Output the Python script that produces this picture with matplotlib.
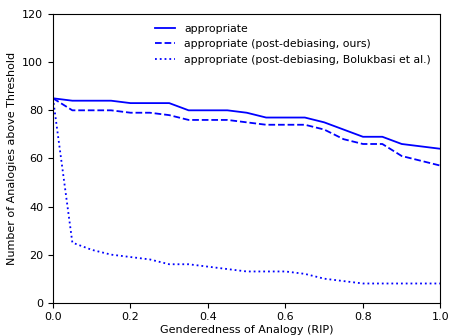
import matplotlib
matplotlib.use("Agg")
import matplotlib.pyplot as plt

# thresholds on genderedness (RIP)
rip = [0.0, 0.05, 0.1, 0.15, 0.2, 0.25, 0.3, 0.35, 0.4, 0.45, 0.5,
       0.55, 0.6, 0.65, 0.7, 0.75, 0.8, 0.85, 0.9, 0.95, 1.0]

appropriate = [85, 84, 84, 84, 83, 83, 83, 80, 80, 80, 79,
               77, 77, 77, 75, 72, 69, 69, 66, 65, 64]
appropriate_ours = [85, 80, 80, 80, 79, 79, 78, 76, 76, 76, 75,
                    74, 74, 74, 72, 68, 66, 66, 61, 59, 57]
appropriate_bolukbasi = [85, 25, 22, 20, 19, 18, 16, 16, 15, 14, 13,
                         13, 13, 12, 10, 9, 8, 8, 8, 8, 8]

labels = ["appropriate",
          "appropriate (post-debiasing, ours)",
          "appropriate (post-debiasing, Bolukbasi et al.)"]

plt.rcParams['font.size'] = 8

fig, ax = plt.subplots(figsize=(4.49, 3.36), dpi=100)
fig.subplots_adjust(left=0.118, right=0.981, top=0.958, bottom=0.099)

ax.plot(rip, appropriate, 'b-', lw=1.3, label=labels[0])
ax.plot(rip, appropriate_ours, 'b--', lw=1.3, label=labels[1])
ax.plot(rip, appropriate_bolukbasi, 'b:', lw=1.3, label=labels[2])

ax.set_xlim(0, 1.0)
ax.set_ylim(0, 120)
ax.set_xlabel("Genderedness of Analogy (RIP)", labelpad=1.5)
ax.set_ylabel("Number of Analogies above Threshold")
ax.legend(loc='upper right', frameon=False, fontsize=7.8, handlelength=1.9)

plt.savefig("out.png")
